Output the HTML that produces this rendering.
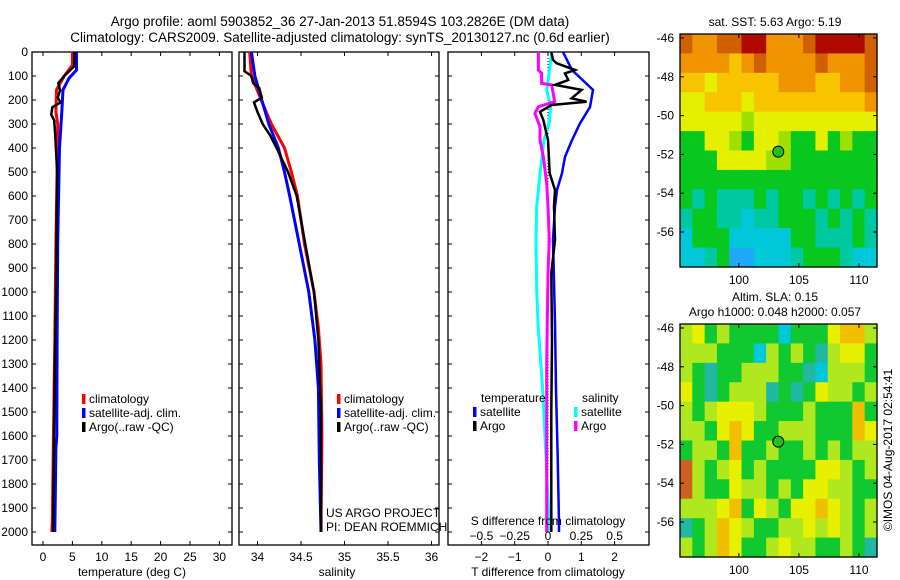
<!DOCTYPE html>
<html><head><meta charset="utf-8">
<style>
html,body{margin:0;padding:0;background:#fff;}
svg{display:block;font-family:"Liberation Sans",sans-serif;}
text{fill:#000;}
</style></head>
<body>
<svg id="fig" width="900" height="580" viewBox="0 0 900 580" xmlns="http://www.w3.org/2000/svg">
<text x="340" y="26" font-size="13.5" text-anchor="middle">Argo profile: aoml 5903852_36 27-Jan-2013 51.8594S 103.2826E (DM data)</text>
<text x="340" y="42" font-size="13.5" text-anchor="middle">Climatology: CARS2009. Satellite-adjusted climatology: synTS_20130127.nc (0.6d earlier)</text>
<g id="p1"></g>
<g id="p2"></g>
<g id="p3"></g>
<g id="m1"></g>
<g id="m2"></g>
<text x="775" y="26" font-size="12" text-anchor="middle">sat. SST: 5.63 Argo: 5.19</text>
<text x="775" y="301" font-size="12" text-anchor="middle">Altim. SLA: 0.15</text>
<text x="775" y="316" font-size="12" text-anchor="middle">Argo h1000: 0.048 h2000: 0.057</text>
<text transform="translate(892,450) rotate(-90)" font-size="12" text-anchor="middle">©IMOS 04-Aug-2017 02:54:41</text>
</svg>
<script>
// ---------- data ----------
const depthTicks = [0,100,200,300,400,500,600,700,800,900,1000,1100,1200,1300,1400,1500,1600,1700,1800,1900,2000];
const tempTicks = [0,5,10,15,20,25,30];
const salTicks = [34,34.5,35,35.5,36];
const salTickLabels = ["34","34.5","35","35.5","36"];
const tdiffTicks = [-2,-1,0,1,2];
const sdiffTicks = [-0.5,-0.25,0,0.25,0.5];
const sdiffTickLabels = ["\u22120.5","\u22120.25","0","0.25","0.5"];
const tdiffTickLabels = ["\u22122","\u22121","0","1","2"];

const tClimDepth = [0,55,100,158,250,300,500,800,1200,1550,1750,1950,2000];
const tClimVal   = [5.0,5.0,3.6,2.3,2.2,2.5,2.4,2.2,2.0,1.8,1.7,1.6,1.5];
const tSatDepth  = [0,75,110,158,250,400,800,1200,1600,1650,1850,2000];
const tSatVal    = [5.7,5.7,4.4,3.4,3.2,2.8,2.5,2.4,2.35,2.2,2.1,2.0];
const tArgoDepth = [0,60,100,130,160,190,210,230,260,285,350,500,1000,1500,2000];
const tArgoVal   = [5.3,5.3,3.6,2.6,2.9,2.5,3.0,1.6,1.4,1.9,2.1,2.4,2.2,1.9,1.7];

const sClimDepth = [0,100,250,300,400,500,600,800,1000,1150,1300,1600,2000];
const sClimVal   = [33.91,33.93,34.10,34.16,34.31,34.39,34.46,34.54,34.65,34.70,34.73,34.74,34.73];
const sSatDepth  = [0,100,200,300,400,500,600,800,1000,1200,1400,1700,2000];
const sSatVal    = [33.93,33.97,34.05,34.13,34.24,34.31,34.37,34.48,34.59,34.66,34.70,34.71,34.73];
const sArgoDepth = [0,80,100,130,150,190,210,250,300,350,400,500,600,800,1000,1200,1500,2000];
const sArgoVal   = [33.85,33.85,33.93,33.95,34.02,34.05,33.96,34.00,34.06,34.15,34.22,34.35,34.45,34.55,34.65,34.70,34.73,34.73];

const dTSatDepth = [0,75,158,229,297,367,437,505,575,645,783,1130,1408,1687,1962,2000];
const dTSatVal   = [0.45,0.72,1.35,1.26,0.96,0.72,0.51,0.42,0.27,0.21,0.15,0.21,0.24,0.29,0.33,0.33];
const dTArgoDepth= [0,33,47,75,89,117,137,158,193,207,221,249,283,367,506,575,645,783,922,1200,1500,2000];
const dTArgoVal  = [0.1,0.15,0.26,0.81,0.51,0.61,0.21,1.01,0.71,1.16,0.11,-0.24,-0.14,0.0,0.05,0.21,0.18,0.21,0.1,0.12,0.1,0.1];
const dSArgoDepth= [0,75,89,131,137,207,228,256,311,367,436,547,645,783,922,1300,2000];
const dSArgoVal  = [-0.072,-0.072,-0.048,-0.048,0.028,0.05,-0.072,-0.098,-0.06,-0.06,-0.035,-0.01,0.0,0.01,0.0,-0.01,-0.01];
const dSSatDepth = [0,89,158,228,297,367,506,645,783,992,1130,1408,1687,1963,2000];
const dSSatVal   = [0.028,0.008,-0.01,0.02,0.008,-0.03,-0.06,-0.085,-0.09,-0.085,-0.075,-0.04,-0.015,0.008,0.008];

const argoLon = 103.28, argoLat = -51.86;
const sstGrid = [
"98899aa8889aaaa9",
"8888789888898889",
"7767777788877889",
"6677767777777778",
"6666656666666666",
"4466546654464544",
"4446666554444444",
"4444444444444444",
"4343334344343434",
"3443323344434343",
"2444222224433343",
"2234112223444322"];
const slaGrid = [
"5645444424446775",
"5554442545435664",
"5434455544325554",
"6434555343465545",
"5456665444544474",
"5546764455544476",
"4554744544545455",
"8545645444466545",
"8544655454665544",
"5556746546676545",
"3457654455656545",
"5457644565544543"];
const sstColors = ["#1060ff","#20a8f8","#00c8d8","#00c8a0","#08c820","#a0e000","#e4f000","#f8c400","#f09400","#d06000","#b00a00"];
const slaColors = ["#1060ff","#20a8f8","#00c8d8","#20b8a0","#10c830","#b0e820","#e8f000","#f0c000","#d06020","#b00000"];

// ---------- helpers ----------
const NS = "http://www.w3.org/2000/svg";
function mk(parent, tag, attrs, txt){
  const e = document.createElementNS(NS, tag);
  for (const k in attrs) e.setAttribute(k, attrs[k]);
  if (txt !== undefined) e.textContent = txt;
  parent.appendChild(e); return e;
}
const TOP = 52, BOT = 545, DMAX = (545-52)/0.24;
const yD = d => TOP + d*0.24;

function panel(g, x0, x1, xs, ticks, labels, fsz){
  const r = mk(g,'rect',{x:x0,y:TOP,width:x1-x0,height:BOT-TOP,fill:'none',stroke:'#000','stroke-width':1.3});
  
  
  depthTicks.forEach(d=>{
    mk(g,'line',{x1:x0,x2:x0+4,y1:yD(d),y2:yD(d),stroke:'#000'});
    mk(g,'line',{x1:x1-4,x2:x1,y1:yD(d),y2:yD(d),stroke:'#000'});
  });
  ticks.forEach((v,i)=>{
    const x = xs(v);
    mk(g,'line',{x1:x,x2:x,y1:TOP,y2:TOP+4,stroke:'#000'});
    mk(g,'line',{x1:x,x2:x,y1:BOT-4,y2:BOT,stroke:'#000'});
    const t = mk(g,'text',{x:x,y:561,'font-size':fsz||12,'text-anchor':'middle'},labels[i]);
    
    
  });
}
function line(g, depths, vals, xs, color, w, name){
  const pts = depths.map((d,i)=>xs(vals[i]).toFixed(1)+','+yD(d).toFixed(1)).join(' ');
  const p = mk(g,'polyline',{points:pts,fill:'none',stroke:color,'stroke-width':w,'stroke-linejoin':'miter'});
  
  
}
function legend(g, x, y, items){
  items.forEach((it,i)=>{
    mk(g,'rect',{x:x,y:y+i*14-9,width:3.5,height:10,fill:it[1]});
    const t = mk(g,'text',{x:x+7,y:y+i*14,'font-size':12},it[0]);
    
    
  });
}

// ---------- panel 1 ----------
const g1 = document.getElementById('p1');
const xT = v => 43 + v*5.88;
depthTicks.forEach(d=>{
  const t = mk(g1,'text',{x:28,y:yD(d)+4,'font-size':12,'text-anchor':'end'},String(d));
  
  
});
panel(g1,32,232,xT,tempTicks,tempTicks.map(String));
line(g1,tClimDepth,tClimVal,xT,'#ff0000',3,'temp-climatology-line');
line(g1,tSatDepth,tSatVal,xT,'#0000ff',3,'temp-satellite-line');
line(g1,tArgoDepth,tArgoVal,xT,'#000000',2.5,'temp-argo-line');
legend(g1,82,403,[['climatology','#ff0000'],['satellite-adj. clim.','#0000ff'],['Argo(..raw -QC)','#000']]);
mk(g1,'text',{x:132,y:576,'font-size':12,'text-anchor':'middle'},'temperature (deg C)');

// ---------- panel 2 ----------
const g2 = document.getElementById('p2');
const xS = v => 257.5 + (v-34)*87;
panel(g2,239,439,xS,salTicks,salTickLabels);
line(g2,sClimDepth,sClimVal,xS,'#ff0000',3,'sal-climatology-line');
line(g2,sSatDepth,sSatVal,xS,'#0000ff',3,'sal-satellite-line');
line(g2,sArgoDepth,sArgoVal,xS,'#000000',2.5,'sal-argo-line');
legend(g2,337,403,[['climatology','#ff0000'],['satellite-adj. clim.','#0000ff'],['Argo(..raw -QC)','#000']]);
mk(g2,'text',{x:326,y:517,'font-size':12},'US ARGO PROJECT');
mk(g2,'text',{x:326,y:531,'font-size':12},'PI: DEAN ROEMMICH');
mk(g2,'text',{x:337,y:576,'font-size':12,'text-anchor':'middle'},'salinity');

// ---------- panel 3 ----------
const g3 = document.getElementById('p3');
const xD = v => 548 + v*33.3;
const xSD = v => 548 + v*4*33.3;
panel(g3,448,649,xD,tdiffTicks,tdiffTickLabels);
mk(g3,'line',{x1:548,x2:548,y1:TOP,y2:yD(2000),stroke:'#000','stroke-dasharray':'1,2','stroke-width':1});
line(g3,dSSatDepth,dSSatVal,xSD,'#00ffff',3,'sdiff-satellite-line');
line(g3,dSArgoDepth,dSArgoVal,xSD,'#ff00ff',3,'sdiff-argo-line');
line(g3,dTSatDepth,dTSatVal,xD,'#0000ff',2.5,'tdiff-satellite-line');
line(g3,dTArgoDepth,dTArgoVal,xD,'#000000',2.5,'tdiff-argo-line');
mk(g3,'text',{x:481,y:402,'font-size':12},'temperature');
mk(g3,'text',{x:582,y:402,'font-size':12},'salinity');
legend(g3,473,416,[['satellite','#0000ff'],['Argo','#000']]);
legend(g3,574,416,[['satellite','#00ffff'],['Argo','#ff00ff']]);
mk(g3,'text',{x:548,y:525,'font-size':12,'text-anchor':'middle'},'S difference from climatology');
sdiffTicks.forEach((v,i)=>{
  const t = mk(g3,'text',{x:xSD(v),y:540,'font-size':12,'text-anchor':'middle'},sdiffTickLabels[i]);
  
  
});
mk(g3,'text',{x:548,y:576,'font-size':12,'text-anchor':'middle'},'T difference from climatology');

// ---------- maps ----------
function map(g, top, grid, colors){
  const L=680, R=877, B=top+233;
  const lonMin=95.1, lonMax=111.5;
  const xl = lon => L + (lon-lonMin)*(R-L)/(lonMax-lonMin);
  const yl = lat => top+4 + (-46-lat)*19.4;
  const rows = grid.length, cols = grid[0].length;
  const cw=(R-L)/cols, ch=(B-top)/rows;
  grid.forEach((row,ri)=>{
    for (let ci=0; ci<cols; ci++){
      const c = mk(g,'rect',{x:(L+ci*cw).toFixed(2),y:(top+ri*ch).toFixed(2),width:(cw+0.6).toFixed(2),height:(ch+0.6).toFixed(2),fill:colors[parseInt(grid[ri][ci],16)]});
      
      
    }
  });
  mk(g,'rect',{x:L,y:top,width:R-L,height:B-top,fill:'none',stroke:'#000','stroke-width':1.3});
  [-46,-48,-50,-52,-54,-56].forEach(lat=>{
    const y=yl(lat);
    mk(g,'line',{x1:L,x2:L+4,y1:y,y2:y,stroke:'#000'});
    mk(g,'line',{x1:R-4,x2:R,y1:y,y2:y,stroke:'#000'});
    const t = mk(g,'text',{x:674,y:y+4,'font-size':12,'text-anchor':'end'},String(lat));
    
    
  });
  [100,105,110].forEach(lon=>{
    const x=xl(lon);
    mk(g,'line',{x1:x,x2:x,y1:top,y2:top+4,stroke:'#000'});
    mk(g,'line',{x1:x,x2:x,y1:B-4,y2:B,stroke:'#000'});
    const t = mk(g,'text',{x:x,y:B+17,'font-size':12,'text-anchor':'middle'},String(lon));
    
    
  });
  const m = mk(g,'circle',{cx:xl(argoLon),cy:yl(argoLat),r:5.5,fill:'#20c020',stroke:'#000','stroke-width':1});
  
  
}
map(document.getElementById('m1'),34,sstGrid,sstColors);
map(document.getElementById('m2'),324,slaGrid,slaColors);
</script>
</body></html>
